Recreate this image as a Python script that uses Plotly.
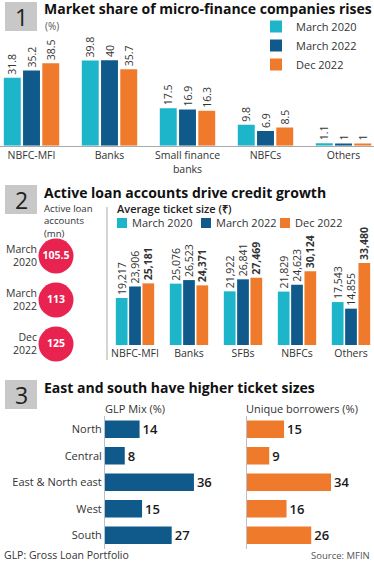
import plotly.graph_objects as go

# ---------------- Data ----------------
s1_categories = ["NBFC-MFI", "Banks", "Small finance<br>banks", "NBFCs", "Others"]
s1_mar2020 = [31.8, 39.8, 17.5, 9.8, 1.1]
s1_mar2022 = [35.2, 40, 16.9, 6.9, 1]
s1_dec2022 = [38.5, 35.7, 16.3, 8.5, 1]

periods = ["March 2020", "March 2022", "Dec 2022"]
period_labels = ["March<br>2020", "March<br>2022", "Dec<br>2022"]
active_accounts = [105.5, 113, 125]

s2_categories = ["NBFC-MFI", "Banks", "SFBs", "NBFCs", "Others"]
s2_mar2020 = [19217, 25076, 21922, 21829, 17543]
s2_mar2022 = [23906, 26523, 26841, 24623, 14855]
s2_dec2022 = [25181, 24371, 27469, 30124, 33480]

regions = ["North", "Central", "East & North east", "West", "South"]
glp_mix = [14, 8, 36, 15, 27]
unique_borrowers = [15, 9, 34, 16, 26]

# ---------------- Styling helpers ----------------
W, H = 374, 561
def fx(p):
    return p / W
def fy(p):
    return 1 - p / H

FONT = "Open Sans"
TEAL = "#1cb5ca"
NAVY = "#0f5a8a"
ORANGE = "#f07a2c"
PINK = "#e8234f"
TXT = "#333333"
DARK = "#1a1a1a"
colors = [TEAL, NAVY, ORANGE]

fig = go.Figure()

# Section 1: market share bars
for name, vals, col in zip(periods, [s1_mar2020, s1_mar2022, s1_dec2022], colors):
    fig.add_trace(go.Bar(
        x=s1_categories, y=vals, name=name, marker_color=col, marker_line_width=0,
        texttemplate="%{y}", textposition="outside", textangle=-90, constraintext="none",
        textfont=dict(size=10.5, color=TXT), cliponaxis=False,
        xaxis="x", yaxis="y", legend="legend", hoverinfo="skip"))

# Section 2: active loan account circles
fig.add_trace(go.Scatter(
    x=[0 for _ in periods], y=period_labels, mode="markers+text",
    marker=dict(size=35, color=PINK, line_width=0),
    text=active_accounts, texttemplate="%{text}", textposition="middle center",
    textfont=dict(size=10.5, color="white", weight="bold"),
    xaxis="x3", yaxis="y3", showlegend=False, cliponaxis=False, hoverinfo="skip"))

# Section 2: ticket size bars
for name, vals, col in zip(periods, [s2_mar2020, s2_mar2022, s2_dec2022], colors):
    tmpl = "<b>%{y:,}</b>" if name == periods[-1] else "%{y:,}"
    fig.add_trace(go.Bar(
        x=s2_categories, y=vals, name=name, marker_color=col, marker_line_width=0,
        texttemplate=tmpl, textposition="outside", textangle=-90, constraintext="none",
        textfont=dict(size=10.5, color=TXT), cliponaxis=False,
        xaxis="x4", yaxis="y4", showlegend=False, hoverinfo="skip"))

# Section 3: regional bars
fig.add_trace(go.Bar(
    x=glp_mix, y=regions, orientation="h", marker_color=NAVY, marker_line_width=0,
    texttemplate="%{x}", textposition="outside", constraintext="none",
    textfont=dict(size=13, color=DARK, weight=600), cliponaxis=False,
    xaxis="x5", yaxis="y5", showlegend=False, hoverinfo="skip"))
fig.add_trace(go.Bar(
    x=unique_borrowers, y=regions, orientation="h", marker_color=ORANGE, marker_line_width=0,
    texttemplate="%{x}", textposition="outside", constraintext="none",
    textfont=dict(size=13, color=DARK, weight=600), cliponaxis=False,
    xaxis="x6", yaxis="y6", showlegend=False, hoverinfo="skip"))

hidden = dict(visible=False, fixedrange=True)
cat_common = dict(type="category", showgrid=False, zeroline=False, ticks="", fixedrange=True)

shapes = []
annotations = []
for num, top in [("1", 2), ("2", 185), ("3", 380)]:
    shapes.append(dict(type="rect", xref="paper", yref="paper",
                       x0=fx(5), x1=fx(37), y0=fy(top + 29), y1=fy(top),
                       fillcolor="#c8c8c8", line_width=0, layer="below"))
    annotations.append(dict(text=num, xref="paper", yref="paper", x=fx(21), y=fy(top + 15),
                            xanchor="center", yanchor="middle", showarrow=False,
                            font=dict(size=23, color="#222222")))

titles = [("Market share of micro-finance companies rises", 9),
          ("Active loan accounts drive credit growth", 192),
          ("East and south have higher ticket sizes", 387)]
for t, mid in titles:
    annotations.append(dict(text=t, xref="paper", yref="paper", x=fx(42), y=fy(mid),
                            xanchor="left", yanchor="middle", showarrow=False,
                            font=dict(size=14, color="#111111", weight="bold")))

annotations += [
    dict(text="(%)", xref="paper", yref="paper", x=fx(43), y=fy(26), xanchor="left",
         yanchor="middle", showarrow=False, font=dict(size=10, color="#555555")),
    dict(text="Active loan<br>accounts<br>(mn)", xref="paper", yref="paper", x=fx(42), y=fy(200),
         xanchor="left", yanchor="top", align="left", showarrow=False,
         font=dict(size=9.6, color=TXT)),
    dict(text="Average ticket size (₹)", xref="paper", yref="paper", x=fx(115), y=fy(208),
         xanchor="left", yanchor="middle", showarrow=False,
         font=dict(size=11, color="#222222", weight=600)),
    dict(text="GLP Mix (%)", xref="paper", yref="paper", x=fx(103), y=fy(408),
         xanchor="left", yanchor="middle", showarrow=False, font=dict(size=11, color=TXT)),
    dict(text="Unique borrowers (%)", xref="paper", yref="paper", x=fx(244), y=fy(408),
         xanchor="left", yanchor="middle", showarrow=False, font=dict(size=11, color=TXT)),
    dict(text="GLP: Gross Loan Portfolio", xref="paper", yref="paper", x=fx(2), y=fy(555),
         xanchor="left", yanchor="middle", showarrow=False, font=dict(size=10.5, color=TXT)),
    dict(text="Source: MFIN", xref="paper", yref="paper", x=fx(372), y=fy(555),
         xanchor="right", yanchor="middle", showarrow=False, font=dict(size=9.5, color="#555555")),
]

# Section 2 legend keys (horizontal row)
legend2_x = [117, 201, 280]
for name, col, lx in zip(periods, colors, legend2_x):
    shapes.append(dict(type="rect", xref="paper", yref="paper",
                       x0=fx(lx), x1=fx(lx + 10), y0=fy(228), y1=fy(218),
                       fillcolor=col, line_width=0))
    annotations.append(dict(text=name, xref="paper", yref="paper", x=fx(lx + 13), y=fy(223),
                            xanchor="left", yanchor="middle", showarrow=False,
                            font=dict(size=11, color=TXT)))

shapes.append(dict(type="line", xref="paper", yref="paper", x0=fx(107), x1=fx(107),
                   y0=fy(360), y1=fy(207), line=dict(color="#aaaaaa", width=1)))

fig.update_layout(
    width=W, height=H, margin=dict(l=0, r=0, t=0, b=0),
    paper_bgcolor="white", plot_bgcolor="white",
    font=dict(family=FONT, color=TXT),
    barmode="group", bargap=0.26, bargroupgap=0.12,
    shapes=shapes, annotations=annotations,
    xaxis=dict(**cat_common, domain=[0, 1], anchor="y", range=[-0.404, 4.391],
               showline=True, linecolor="#aaaaaa", linewidth=1,
               tickfont=dict(size=10.5, color=TXT)),
    yaxis=dict(**hidden, domain=[fy(145.7), fy(55)], anchor="x", range=[0, 42.4]),
    xaxis3=dict(**hidden, domain=[fx(38), fx(74)], anchor="y3", range=[-1, 1]),
    yaxis3=dict(**cat_common, domain=[fy(366), fy(234)], anchor="x3",
                categoryorder="array", categoryarray=period_labels, range=[2.5, -0.5],
                showline=False, tickfont=dict(size=10.5, color=TXT)),
    xaxis4=dict(**cat_common, domain=[fx(108), 1], anchor="y4", range=[-0.5, 4.426],
                showline=False, tickfont=dict(size=10.5, color=TXT)),
    yaxis4=dict(**hidden, domain=[fy(345), fy(252)], anchor="x4", range=[0, 38000]),
    xaxis5=dict(**hidden, domain=[fx(105), fx(230)], anchor="y5", range=[0, 50.6]),
    yaxis5=dict(**cat_common, domain=[fy(548.5), fy(416)], anchor="x5",
                categoryorder="array", categoryarray=regions, range=[4.5, -0.5],
                showline=True, linecolor="#b8c0c8", linewidth=1,
                tickfont=dict(size=11, color=TXT)),
    xaxis6=dict(**hidden, domain=[fx(247), 1], anchor="y6", range=[0, 51.4]),
    yaxis6=dict(**cat_common, domain=[fy(548.5), fy(416)], anchor="x6",
                categoryorder="array", categoryarray=regions, range=[4.5, -0.5],
                showline=True, linecolor="#b8c0c8", linewidth=1, showticklabels=False),
    legend=dict(x=fx(256), y=fy(12), xanchor="left", yanchor="top", orientation="v",
                font=dict(size=11, color=TXT), bgcolor="rgba(0,0,0,0)",
                tracegroupgap=0, traceorder="normal"),
)

fig.write_html("out.html", config={"displayModeBar": False},
               post_script="document.body.style.margin='0';document.body.style.padding='0';")
